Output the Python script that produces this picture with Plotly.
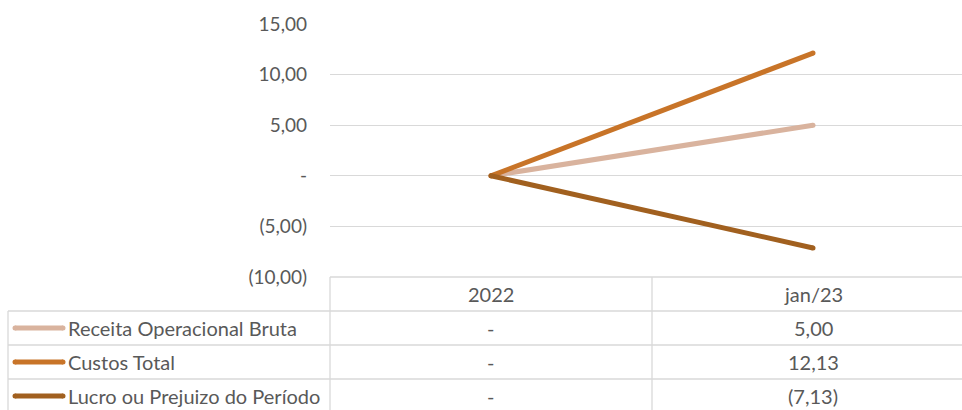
import plotly.graph_objects as go

categories = ["2022", "jan/23"]
series_names = ["Receita Operacional Bruta", "Custos Total", "Lucro ou Prejuizo do Período"]
receita = [0.0, 5.00]
custos = [0.0, 12.13]
lucro = [0.0, -7.13]
series_values = [receita, custos, lucro]
colors = ["#D9B39E", "#C87428", "#A1601F"]
tick_values = [-10, -5, 0, 5, 10, 15]


def fmt(v):
    if abs(v) < 1e-9:
        return "-"
    s = f"{abs(v):.2f}".replace(".", ",")
    return f"({s})" if v < 0 else s


W, H = 962, 410
L, R, T, B = 330, 962, 24, 277   # plot area in pixels
ROW = 34
TABLE_LEFT = 8
FONT = "Lato"
TXT = "#595959"
GRID = "#D9D9D9"
FS = 20
TFS = 19
COL_W = 322


def px(x):
    return x / W


def py(y):
    return 1 - y / H


fig = go.Figure()
xs = list(range(len(categories)))
for name, vals, col in zip(series_names, series_values, colors):
    fig.add_trace(go.Scatter(
        x=xs, y=vals, name=name, mode="lines+markers",
        line=dict(color=col, width=5),
        marker=dict(color=col, size=5),
        showlegend=False, hoverinfo="skip"))

shapes = []
annotations = []

n_rows = len(series_names)
rows_top = [B + ROW * (i + 1) for i in range(n_rows + 1)]
line_style = dict(color=GRID, width=1.3)
shapes.append(dict(type="line", xref="paper", yref="paper", x0=px(L), x1=1, y0=py(B), y1=py(B), line=line_style))
for yy in rows_top:
    shapes.append(dict(type="line", xref="paper", yref="paper", x0=px(TABLE_LEFT), x1=1, y0=py(yy), y1=py(yy), line=line_style))
for i in range(len(categories)):
    xb = L + COL_W * i
    shapes.append(dict(type="line", xref="paper", yref="paper", x0=px(xb), x1=px(xb), y0=py(B), y1=0, line=line_style))
shapes.append(dict(type="line", xref="paper", yref="paper", x0=px(TABLE_LEFT), x1=px(TABLE_LEFT), y0=py(B + ROW), y1=0, line=line_style))

for i, c in enumerate(categories):
    annotations.append(dict(text=c, x=px(L + COL_W * (i + 0.5)), y=py(B + ROW / 2), xref="paper", yref="paper",
                            showarrow=False, font=dict(family=FONT, size=FS, color=TXT), xanchor="center", yanchor="middle"))

for r, (name, vals, col) in enumerate(zip(series_names, series_values, colors)):
    yc = B + ROW * (r + 1) + ROW / 2
    shapes.append(dict(type="line", xref="paper", yref="paper", x0=px(15), x1=px(63), y0=py(yc), y1=py(yc),
                       line=dict(color=col, width=5)))
    for xe in (15, 63):
        shapes.append(dict(type="circle", xref="paper", yref="paper", x0=px(xe - 2.5), x1=px(xe + 2.5),
                           y0=py(yc - 2.5), y1=py(yc + 2.5), fillcolor=col, line=dict(width=0)))
    annotations.append(dict(text=name, x=px(66), y=py(yc), xref="paper", yref="paper", showarrow=False,
                            font=dict(family=FONT, size=FS, color=TXT), xanchor="left", yanchor="middle"))
    for i, v in enumerate(vals):
        annotations.append(dict(text=fmt(v), x=px(L + COL_W * (i + 0.5)), y=py(yc), xref="paper", yref="paper",
                                showarrow=False, font=dict(family=FONT, size=FS, color=TXT),
                                xanchor="center", yanchor="middle"))

fig.update_layout(
    width=W, height=H,
    margin=dict(l=0, r=0, t=0, b=0, pad=0, autoexpand=False),
    paper_bgcolor="white", plot_bgcolor="white",
    xaxis=dict(domain=[px(L), 1], range=[-0.5, -0.5 + (R - L) / COL_W], showgrid=False, zeroline=False,
               showticklabels=False, showline=False, fixedrange=True, automargin=False),
    yaxis=dict(domain=[py(B), py(T)], range=[-10, 15], tickvals=tick_values,
               ticktext=[fmt(v) for v in tick_values], showgrid=True, gridcolor=GRID, gridwidth=1.3,
               zeroline=False, showline=False, ticks="", ticklabelstandoff=22, automargin=False,
               tickfont=dict(family=FONT, size=TFS, color=TXT), fixedrange=True),
    shapes=shapes, annotations=annotations, showlegend=False,
)

fig.write_html("out.html", config={"displayModeBar": False},
               post_script="document.body.style.margin='0';document.body.style.overflow='hidden';")
